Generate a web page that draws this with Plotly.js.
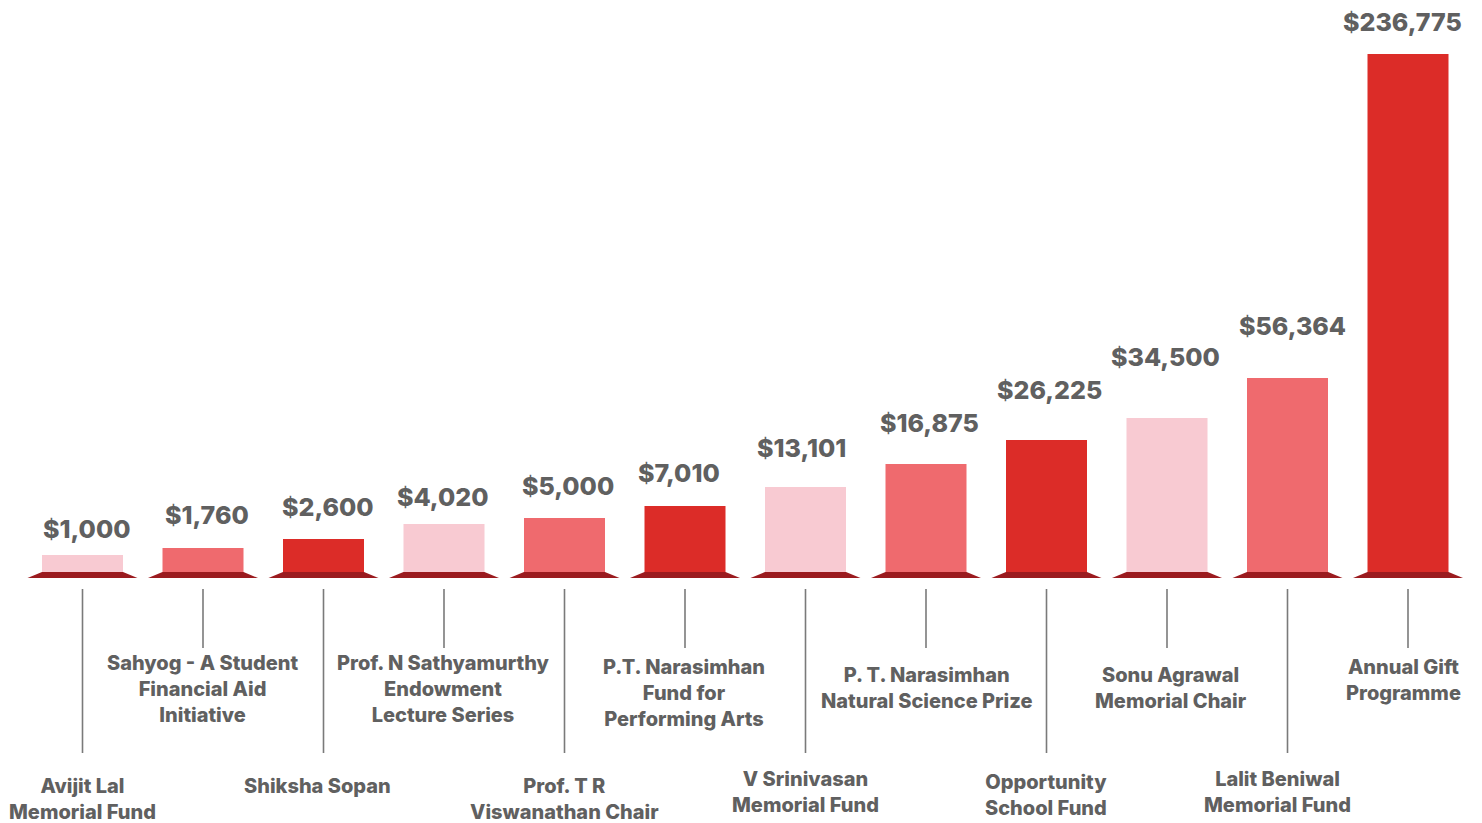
<!DOCTYPE html>
<html>
<head>
<meta charset="utf-8">
<script src="https://cdn.plot.ly/plotly-3.0.1.min.js"></script>
<style>
  html, body { margin: 0; padding: 0; background: #ffffff; }
  #chart { width: 1482px; height: 823px; }
</style>
</head>
<body>
<div id="chart"></div>
<script>
// ---- data ----
const funds = [
  "Avijit Lal<br>Memorial Fund",
  "Sahyog - A Student<br>Financial Aid<br>Initiative",
  "Shiksha Sopan",
  "Prof. N Sathyamurthy<br>Endowment<br>Lecture Series",
  "Prof. T R<br>Viswanathan Chair",
  "P.T. Narasimhan<br>Fund for<br>Performing Arts",
  "V Srinivasan<br>Memorial Fund",
  "P. T. Narasimhan<br>Natural Science Prize",
  "Opportunity<br>School Fund",
  "Sonu Agrawal<br>Memorial Chair",
  "Lalit Beniwal<br>Memorial Fund",
  "Annual Gift<br>Programme"
];
const amounts = [1000, 1760, 2600, 4020, 5000, 7010, 13101, 16875, 26225, 34500, 56364, 236775];
// drawn bar heights as shown in the infographic (not proportional to amounts)
const barHeights = [17, 24, 33, 48, 54, 66, 85, 108, 132, 154, 194, 518];

// ---- styling / placement (not data) ----
const palette = ["#f8cad2", "#ef6a6e", "#dc2c28"];
const plinthColor = "#9b1b1f";
const textColor = "#606060";
const lineColor = "#7a7a7a";
const baselinePx = 572;          // pixel row of the bar baseline
const figH = 823, figW = 1482;
const pxPerCat = 120.5, firstCenterPx = 82.5;
const barW = 81 / pxPerCat;
const plinthExt = 14.5 / pxPerCat;
const plinthDepth = 6;
const valueNudgeX = [3.5, 3.5, 4.5, -1.5, 3, -6.5, -4.5, 3.5, 2.5, -2, 4.5, -6];
const valueCenterPx = [529, 514.5, 507, 496.5, 485.5, 472.5, 448, 422.5, 389.5, 357, 326, 21.5];
const labelCenterXPx = [82, 202, 317, 443, 564, 684, 805, 926, 1046, 1171, 1277, 1403];
const labelFirstLinePx = [786, 664, 786, 664, 786, 668, 779, 675, 782, 675, 779, 667];
const lineEndPx = [753, 648, 753, 648, 753, 648, 753, 648, 753, 648, 753, 648];
const lineStartPx = 589;
const lineH = 25;

const py = p => baselinePx - p;   // pixel row -> data y
const xs = funds.map((_, i) => i);

const trace = {
  type: "bar",
  x: xs,
  y: barHeights,
  width: barW,
  marker: { color: xs.map(i => palette[i % 3]), line: { width: 0 } },
  hoverinfo: "skip"
};

const shapes = [];
const annotations = [];
xs.forEach(i => {
  const l = i - barW / 2, r = i + barW / 2;
  shapes.push({
    type: "path", xref: "x", yref: "y",
    path: `M ${l - plinthExt} ${-plinthDepth} L ${l} 0 L ${r} 0 L ${r + plinthExt} ${-plinthDepth} Z`,
    fillcolor: plinthColor, line: { width: 0 }
  });
  shapes.push({
    type: "line", xref: "x", yref: "y",
    x0: i, x1: i, y0: py(lineStartPx), y1: py(lineEndPx[i]),
    line: { color: lineColor, width: 1.6 }
  });
  annotations.push({
    xref: "x", yref: "y", x: i, y: py(valueCenterPx[i]),
    xshift: valueNudgeX[i], xanchor: "center", yanchor: "middle",
    text: "$" + amounts[i].toLocaleString("en-US"),
    showarrow: false,
    font: { family: "Inter, Roboto, sans-serif", size: 25, color: textColor, weight: 800 }
  });
  const nLines = funds[i].split("<br>").length;
  const centerPx = labelFirstLinePx[i] + (nLines - 1) * lineH / 2;
  annotations.push({
    xref: "x", yref: "y", x: i, y: py(centerPx),
    xshift: labelCenterXPx[i] - (firstCenterPx + i * pxPerCat),
    xanchor: "center", yanchor: "middle", align: "center",
    text: funds[i], showarrow: false,
    font: { family: "Inter, Roboto, sans-serif", size: 20, color: textColor, weight: 800 }
  });
});

const layout = {
  width: figW, height: figH,
  margin: { l: 0, r: 0, t: 0, b: 0, pad: 0 },
  paper_bgcolor: "#ffffff", plot_bgcolor: "#ffffff",
  showlegend: false,
  xaxis: {
    range: [-firstCenterPx / pxPerCat, (figW - firstCenterPx) / pxPerCat],
    visible: false, fixedrange: true
  },
  yaxis: {
    range: [baselinePx - figH, baselinePx],
    visible: false, fixedrange: true
  },
  shapes: shapes,
  annotations: annotations
};

Plotly.newPlot("chart", [trace], layout, { displayModeBar: false, staticPlot: true });
</script>
</body>
</html>
